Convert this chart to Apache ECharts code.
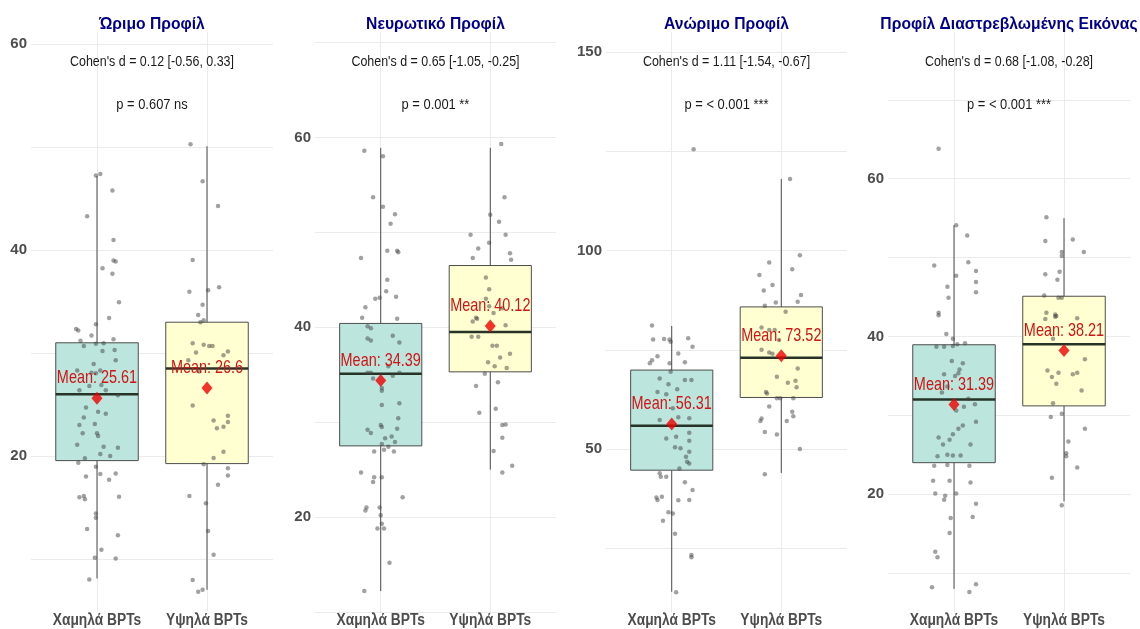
<!DOCTYPE html>
<html><head><meta charset="utf-8">
<script src="https://cdn.jsdelivr.net/npm/echarts@6/dist/echarts.min.js"></script>
<style>html,body{margin:0;padding:0;background:#fff}#chart{width:1140px;height:629px}</style>
</head><body><div id="chart"></div>
<script>
const categories = ['Χαμηλά BPTs', 'Υψηλά BPTs'];
const panelTitles = ['Ώριμο Προφίλ', 'Νευρωτικό Προφίλ', 'Ανώριμο Προφίλ', 'Προφίλ Διαστρεβλωμένης Εικόνας'];
const cohenTexts = ["Cohen's d = 0.12 [-0.56, 0.33]", "Cohen's d = 0.65 [-1.05, -0.25]", "Cohen's d = 1.11 [-1.54, -0.67]", "Cohen's d = 0.68 [-1.08, -0.28]"];
const pTexts = ['p = 0.607 ns', 'p = 0.001 **', 'p = < 0.001 ***', 'p = < 0.001 ***'];

// means per panel [low, high]
const means = [[25.61, 26.6], [34.39, 40.12], [56.31, 73.52], [31.39, 38.21]];

// box statistics [whiskerLow, Q1, median, Q3, whiskerHigh]
const boxMature = [[8.1, 19.55, 26.0, 31.0, 47.2], [7.0, 19.26, 28.5, 33.0, 50.1]];
const boxNeurotic = [[12.2, 27.5, 35.1, 40.4, 58.9], [25.0, 35.3, 39.5, 46.5, 58.9]];
const boxImmature = [[14.1, 44.7, 55.9, 69.9, 81.0], [44.0, 63.0, 73.0, 85.8, 118.0]];
const boxDistorted = [[8.0, 24.0, 32.0, 38.95, 54.1], [19.1, 31.2, 39.0, 45.1, 55.0]];

// individual observations (values) and their horizontal jitter (category units)
const matureLowValues = [47.25,47.4,45.8,43.3,41.0,39.0,38.9,38.25,37.7,34.95,33.4,32.8,32.35,32.2,31.7,31.2,31.35,30.9,30.96,30.7,30.2,30.3,29.3,28.95,28.3,28.1,28.05,28.3,26.8,26.9,26.4,26.4,25.9,24.7,24.3,24.1,23.75,23.0,23.1,22.2,22.2,21.95,21.1,20.9,20.8,20.0,20.2,19.77,19.35,18.95,18.0,18.25,18.3,17.7,16.0,15.8,16.1,16.05,14.4,14.0,12.9,12.3,10.9,10.1,10.05,8.0];
const matureLowJitter = [-0.01,0.03,0.14,-0.09,0.15,0.15,0.17,0.05,0.14,0.2,0.11,-0.01,-0.19,-0.17,-0.05,-0.15,0.15,-0.01,0.06,-0.12,0.05,0.16,0.17,-0.03,-0.18,-0.05,-0.01,0.03,-0.07,0.04,-0.16,0.08,0.19,-0.1,0.01,0.08,-0.12,-0.16,-0.02,-0.13,0.0,0.01,-0.18,0.06,0.19,0.12,0.03,-0.11,-0.17,-0.01,-0.1,0.03,0.17,0.11,-0.16,-0.11,-0.12,0.2,-0.01,-0.01,-0.09,0.19,0.04,-0.02,0.17,-0.07];
const matureHighValues = [50.3,46.7,44.3,39.05,36.4,36.1,35.95,34.7,33.7,33.2,33.0,30.96,30.05,30.8,30.7,30.7,30.15,29.8,29.3,28.2,24.9,23.45,23.9,23.3,22.7,22.85,19.8,20.4,19.2,18.8,18.1,17.2,16.1,15.4,12.7,10.4,7.95,6.8,7.0];
const matureHighJitter = [-0.15,-0.04,0.1,-0.13,0.11,0.01,-0.16,-0.04,-0.08,-0.03,-0.06,-0.13,-0.1,-0.03,0.02,0.05,0.19,0.15,-0.17,-0.07,-0.13,0.06,0.19,0.19,0.09,0.15,0.06,0.15,-0.03,0.19,0.19,0.1,-0.16,-0.01,0.01,0.06,-0.13,-0.08,-0.04];

const neuroticLowValues = [58.6,58.0,53.7,52.7,51.9,50.9,48.06,47.9,48.06,47.3,45.0,43.8,43.0,43.1,43.2,42.1,41.0,40.9,40.1,39.9,38.8,38.6,39.1,38.4,35.9,35.2,35.2,34.6,34.9,35.2,33.6,33.3,31.8,32.0,30.4,29.7,29.5,29.2,28.85,29.3,28.5,28.3,27.9,27.7,27.4,27.1,26.9,26.9,24.7,24.2,23.7,24.2,22.1,21.0,20.7,21.0,20.2,19.3,18.8,18.8,15.2,12.2];
const neuroticLowJitter = [-0.15,0.02,-0.07,0.02,0.13,0.09,0.06,0.16,0.15,-0.18,0.06,0.05,-0.05,-0.01,0.14,-0.14,-0.17,0.15,-0.12,-0.09,-0.12,-0.09,0.11,0.17,0.07,-0.12,-0.09,-0.07,0.11,0.17,0.01,0.01,0.01,0.17,0.16,0.0,0.01,-0.12,-0.09,0.15,0.1,0.04,0.13,0.01,0.07,0.03,-0.06,0.12,-0.18,-0.06,-0.07,0.01,0.2,-0.13,-0.14,-0.01,0.0,0.01,-0.03,0.03,0.08,-0.15];
const neuroticHighValues = [59.3,53.7,51.85,51.1,49.75,49.75,48.9,48.3,47.3,47.8,47.1,45.25,44.0,43.0,42.2,41.5,41.0,42.0,40.6,40.9,40.2,39.0,39.0,38.05,38.05,37.2,36.8,36.3,35.9,35.7,35.1,34.2,33.8,31.4,31.0,29.7,29.75,28.35,26.95,24.7,25.4];
const neuroticHighJitter = [0.1,0.13,0.0,0.08,-0.18,0.14,-0.01,-0.11,-0.16,0.18,0.19,-0.04,-0.01,-0.04,-0.01,0.03,-0.13,0.11,-0.16,-0.12,0.14,-0.17,-0.11,0.02,0.06,0.18,0.09,-0.02,0.04,0.15,-0.05,0.07,-0.13,0.05,-0.1,0.11,0.14,0.11,0.03,0.11,0.2];

const immatureLowValues = [125.5,81.15,77.6,77.7,77.6,77.0,77.9,75.8,74.1,72.4,71.6,73.4,71.85,71.6,69.5,67.8,67.4,67.4,66.3,64.4,63.8,65.1,60.3,57.3,58.0,57.75,52.7,53.1,54.1,52.1,50.45,50.2,48.1,49.35,46.4,46.8,45.1,43.9,43.05,43.05,41.65,39.7,37.8,37.2,38.0,37.1,37.2,34.1,33.8,32.0,28.7,23.35,22.8,14.0];
const immatureLowJitter = [0.2,-0.18,-0.17,-0.07,-0.02,-0.01,0.15,0.19,0.06,-0.18,-0.2,-0.13,0.12,-0.02,-0.01,-0.11,0.12,0.18,-0.03,-0.13,-0.05,0.05,0.01,-0.11,0.06,0.16,-0.05,0.04,0.16,0.16,0.03,0.08,0.13,0.16,0.16,0.14,0.07,-0.11,-0.1,-0.05,0.12,0.19,-0.14,-0.13,-0.09,0.06,0.16,-0.03,0.01,-0.08,0.03,0.18,0.18,0.04];
const immatureHighValues = [118.0,98.8,97.0,95.3,93.8,91.3,89.9,88.8,87.1,86.1,86.9,84.6,80.6,80.0,80.0,77.5,75.0,74.3,74.0,70.3,68.2,66.7,67.2,65.55,64.4,64.0,62.8,62.8,62.8,60.7,59.4,58.3,57.1,57.7,57.1,54.3,53.7,50.0,43.7];
const immatureHighJitter = [0.08,0.17,-0.11,0.1,-0.2,-0.08,-0.16,0.18,0.15,-0.15,-0.05,0.04,-0.18,-0.06,-0.11,-0.02,-0.18,-0.11,-0.08,0.15,-0.04,0.06,0.13,0.14,-0.14,-0.13,-0.04,-0.01,0.11,-0.11,0.1,0.11,0.05,-0.18,-0.19,-0.15,-0.04,0.17,-0.15];

const distortedLowValues = [63.8,54.1,52.8,49.0,49.4,47.7,48.3,46.3,46.9,44.9,45.6,43.0,42.7,40.3,39.7,39.0,39.15,38.7,38.7,38.8,36.9,36.6,35.8,35.35,35.2,35.0,33.65,32.9,32.1,31.1,31.4,30.6,28.7,28.3,29.2,27.6,27.2,26.9,26.3,26.3,24.8,25.0,24.9,24.9,23.6,23.7,23.6,21.7,21.7,21.5,20.1,19.8,20.1,19.3,18.8,17.0,17.1,15.1,12.7,12.0,8.2,8.6,7.6];
const distortedLowJitter = [-0.14,0.02,0.12,-0.18,0.13,0.02,0.2,-0.06,0.2,-0.05,0.2,-0.14,-0.14,-0.07,-0.01,0.03,0.1,-0.16,-0.09,-0.01,-0.02,0.08,0.05,0.04,-0.09,0.01,-0.06,-0.11,0.13,0.09,0.19,0.02,0.08,0.04,0.2,-0.01,-0.14,-0.04,-0.1,0.15,-0.15,-0.06,-0.01,0.06,-0.18,-0.06,0.14,-0.19,-0.04,0.15,-0.17,-0.08,0.02,-0.09,0.2,-0.03,0.17,-0.04,-0.17,-0.15,-0.2,0.2,0.14];
const distortedHighValues = [55.1,52.1,52.3,50.7,50.2,50.7,47.9,48.2,47.2,45.2,44.9,44.9,43.0,42.8,42.6,42.3,42.2,42.5,39.7,37.1,35.7,35.4,35.2,35.4,34.85,34.0,33.15,31.55,29.8,30.2,28.3,26.7,25.2,24.8,23.4,22.1,18.6];
const distortedHighJitter = [-0.16,-0.17,0.08,-0.02,-0.02,0.18,-0.17,-0.04,-0.06,-0.18,-0.05,-0.02,-0.16,-0.08,-0.07,0.12,-0.17,-0.08,-0.1,0.19,-0.15,-0.05,0.08,0.12,-0.11,-0.07,0.16,-0.1,-0.12,-0.02,0.19,0.04,0.02,0.02,0.12,-0.11,-0.02];

// axis limits and tick values
const yMin = [4.84, 10.0, 9.0, 5.07];
const yMax = [61.2, 71.1, 155.0, 78.6];
const yGridValues = [[10,20,30,40,50,60],[10,20,30,40,50,60,70],[25,50,75,100,125,150],[10,20,30,40,50,60,70]];
const yLabelValues = [[20,40,60],[20,40,60],[50,100,150],[20,40,60]];

const boxes = [boxMature, boxNeurotic, boxImmature, boxDistorted];
const lowValues = [matureLowValues, neuroticLowValues, immatureLowValues, distortedLowValues];
const lowJitter = [matureLowJitter, neuroticLowJitter, immatureLowJitter, distortedLowJitter];
const highValues = [matureHighValues, neuroticHighValues, immatureHighValues, distortedHighValues];
const highJitter = [matureHighJitter, neuroticHighJitter, immatureHighJitter, distortedHighJitter];

// layout / style
const gridLeft = [31, 315, 606, 888];
const gridWidth = [242, 241, 241, 242];
const GRID_TOP = 32, GRID_HEIGHT = 580;
const boxFills = ['#bbe5dd', '#ffffd1'];
const SANS = "'Liberation Sans', Arial, sans-serif";
const GRID_COLOR = '#ebebeb';

function renderBox(params, api) {
  const x = api.value(0);
  const lo = api.coord([x, api.value(1)]);
  const q1 = api.coord([x, api.value(2)]);
  const md = api.coord([x, api.value(3)]);
  const q3 = api.coord([x, api.value(4)]);
  const hi = api.coord([x, api.value(5)]);
  const w = api.size([0.75, 0])[0];
  const cx = q1[0];
  const fill = boxFills[params.dataIndex];
  return {
    type: 'group',
    children: [
      { type: 'line', shape: { x1: cx, y1: lo[1], x2: cx, y2: q1[1] }, style: { stroke: '#4a4a4a', lineWidth: 1 } },
      { type: 'line', shape: { x1: cx, y1: q3[1], x2: cx, y2: hi[1] }, style: { stroke: '#4a4a4a', lineWidth: 1 } },
      { type: 'rect', shape: { x: cx - w / 2, y: q3[1], width: w, height: q1[1] - q3[1] }, style: { fill: fill, stroke: '#4d4d4d', lineWidth: 1 } },
      { type: 'line', shape: { x1: cx - w / 2, y1: md[1], x2: cx + w / 2, y2: md[1] }, style: { stroke: '#263326', lineWidth: 2.5 } }
    ]
  };
}

function renderMeanLabel(params, api) {
  const p = api.coord([api.value(0), api.value(1)]);
  return {
    type: 'text', x: p[0], y: p[1] - 20, scaleX: 0.76,
    style: { text: 'Mean: ' + api.value(1), textAlign: 'center', textVerticalAlign: 'middle', fill: '#d01515', font: '19px ' + SANS }
  };
}

function makeCategoryLabelRenderer(i) {
  return function (params, api) {
    const p = api.coord([api.value(0), yMin[i]]);
    return {
      type: 'text', x: p[0], y: p[1] + 9, scaleX: 0.86,
      style: { text: categories[params.dataIndex], textAlign: 'center', textVerticalAlign: 'middle', fill: '#4d4d4d', font: 'bold 16px ' + SANS }
    };
  };
}

const grid = [], xAxis = [], yAxis = [], series = [], graphic = [];
for (let i = 0; i < 4; i++) {
  grid.push({ left: gridLeft[i], top: GRID_TOP, width: gridWidth[i], height: GRID_HEIGHT });
  xAxis.push({
    type: 'value', gridIndex: i, min: 0.4, max: 2.6,
    axisLine: { show: false },
    axisTick: { show: false, customValues: [1, 2] },
    axisLabel: { show: false },
    splitLine: { show: true, lineStyle: { color: GRID_COLOR, width: 1 } }
  });
  yAxis.push({
    type: 'value', gridIndex: i, min: yMin[i], max: yMax[i],
    axisLine: { show: false },
    axisTick: { show: false, customValues: yGridValues[i] },
    axisLabel: {
      customValues: yLabelValues[i], margin: 4,
      color: '#4d4d4d', fontWeight: 'bold', fontSize: 15, fontFamily: SANS
    },
    splitLine: { show: true, lineStyle: { color: GRID_COLOR, width: 1 } }
  });
  series.push({
    type: 'custom', xAxisIndex: i, yAxisIndex: i,
    renderItem: renderBox,
    encode: { x: 0, y: [1, 2, 3, 4, 5] },
    data: boxes[i].map((b, k) => [k + 1].concat(b)),
    silent: true, z: 2
  });
  const pts = lowValues[i].map((v, k) => [1 + lowJitter[i][k], v])
    .concat(highValues[i].map((v, k) => [2 + highJitter[i][k], v]));
  series.push({
    type: 'scatter', xAxisIndex: i, yAxisIndex: i,
    data: pts, symbolSize: 4.5,
    itemStyle: { color: 'rgba(65,65,65,0.62)' },
    silent: true, z: 3
  });
  series.push({
    type: 'scatter', xAxisIndex: i, yAxisIndex: i,
    data: means[i].map((m, k) => [k + 1, m]),
    symbol: 'diamond', symbolSize: [11, 13],
    itemStyle: { color: '#f00000' },
    silent: true, z: 4
  });
  series.push({
    type: 'custom', xAxisIndex: i, yAxisIndex: i,
    renderItem: renderMeanLabel,
    encode: { x: 0, y: 1 },
    data: means[i].map((m, k) => [k + 1, m]),
    clip: false, silent: true, z: 5
  });
  series.push({
    type: 'custom', xAxisIndex: i, yAxisIndex: i,
    renderItem: makeCategoryLabelRenderer(i),
    encode: { x: 0 },
    data: categories.map((c, k) => [k + 1]),
    clip: false, silent: true, z: 5
  });
  const cx = gridLeft[i] + gridWidth[i] / 2;
  graphic.push({ type: 'text', x: cx, y: 24, scaleX: 0.95, z: 100, style: { text: panelTitles[i], textAlign: 'center', textVerticalAlign: 'middle', fill: '#00008b', font: 'bold 16.5px ' + SANS } });
  graphic.push({ type: 'text', x: cx, y: 61.5, scaleX: 0.83, z: 100, style: { text: cohenTexts[i], textAlign: 'center', textVerticalAlign: 'middle', fill: '#1a1a1a', font: '15px ' + SANS } });
  graphic.push({ type: 'text', x: cx, y: 105, scaleX: 0.86, z: 100, style: { text: pTexts[i], textAlign: 'center', textVerticalAlign: 'middle', fill: '#1a1a1a', font: '15px ' + SANS } });
}

const chart = echarts.init(document.getElementById('chart'), null, { renderer: 'canvas' });
chart.setOption({ animation: false, backgroundColor: '#ffffff', grid, xAxis, yAxis, series, graphic });
</script></body></html>
